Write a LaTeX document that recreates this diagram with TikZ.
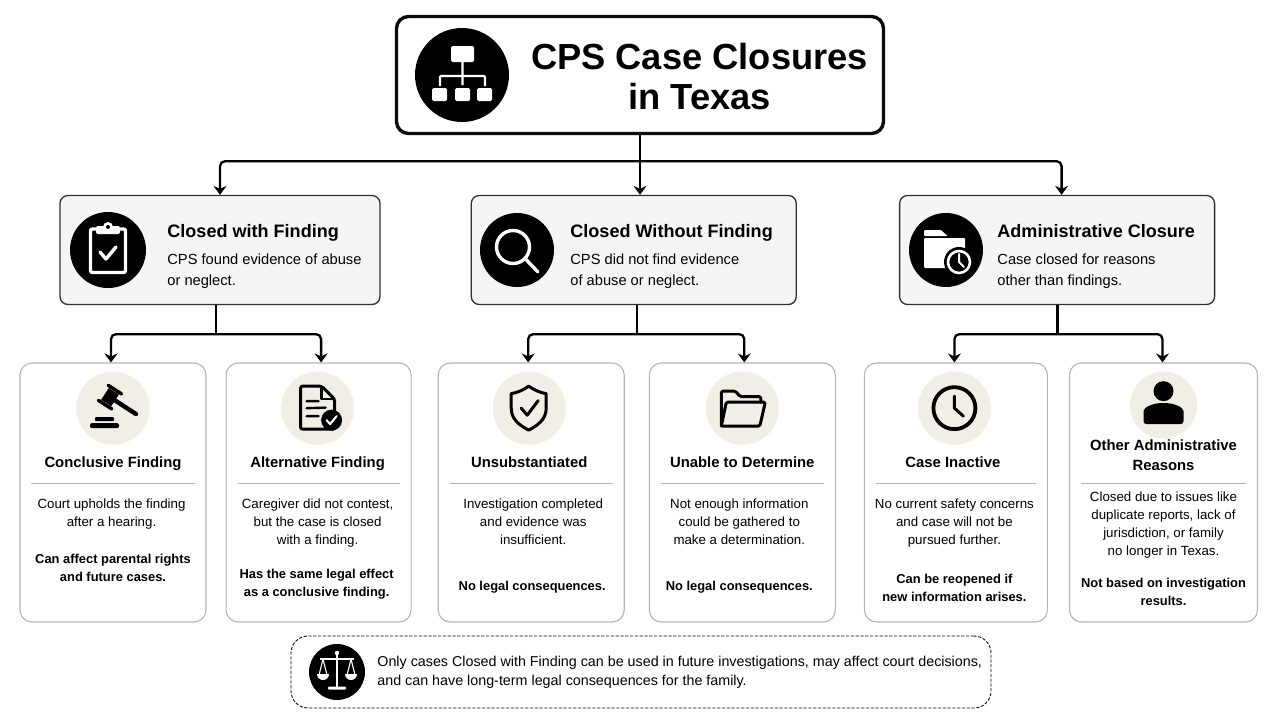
\documentclass[tikz,border=0pt]{standalone}
\usepackage{fontspec}
\setmainfont{Liberation Sans}
\usetikzlibrary{shapes,arrows.meta,positioning}
\definecolor{headfill}{HTML}{F5F5F5}
\definecolor{tanfill}{HTML}{F1EEE6}
\definecolor{cardline}{HTML}{B4B4B4}
\definecolor{inkline}{HTML}{0B0B0B}
\begin{document}
\begin{tikzpicture}[x=1pt, y=1pt, >={Stealth[inset = 3pt, length = 9pt, width = 13pt]}]
    % Define Styles
        \tikzstyle{mainbox} = [
            rectangle,
            draw = inkline,
            fill = white,
            rounded corners = 12pt,
            line width = 3.4pt,
            minimum width = 487pt,
            minimum height = 117pt
        ]
        \tikzstyle{headbox} = [
            rectangle,
            draw = inkline!85,
            fill = headfill,
            rounded corners = 8pt,
            line width = 1.3pt,
            minimum height = 109pt
        ]
        \tikzstyle{cardbox} = [
            rectangle,
            draw = cardline,
            fill = white,
            rounded corners = 12pt,
            line width = 1.1pt,
            minimum height = 259pt
        ]
        \tikzstyle{notebox} = [
            rectangle,
            draw = inkline,
            dash pattern = on 3.2pt off 1.6pt,
            rounded corners = 17pt,
            line width = 0.9pt,
            minimum width = 700pt,
            minimum height = 72pt
        ]
        \tikzstyle{blackdot} = [circle, fill = black, inner sep = 0pt]
        \tikzstyle{tandot} = [circle, fill = tanfill, inner sep = 0pt, minimum size = 73pt]
        \tikzstyle{headtitle} = [inner sep = 0pt, text height = 14pt, text depth = 4pt, font = \fontsize{18.05}{23}\selectfont\bfseries]
        \tikzstyle{headtext} = [inner sep = 0pt, align = left, anchor = north west, font = \fontsize{14.67}{21}\selectfont]
        \tikzstyle{cardtitle} = [inner sep = 0pt, align = center, font = \fontsize{14.85}{20}\selectfont\bfseries]
        \tikzstyle{cardhead} = [cardtitle, text height = 12pt, text depth = 3pt]
        \tikzstyle{cardtext} = [inner sep = 0pt, align = center, font = \fontsize{13.3}{18}\selectfont]
        \tikzstyle{cardnote} = [cardtext, font = \fontsize{12.9}{18}\selectfont\bfseries]
        \tikzstyle{sep} = [draw = cardline, line width = 1.2pt]
        \tikzstyle{link} = [draw = black, line width = 2.3pt, rounded corners = 5pt]
        \tikzstyle{whiteline} = [draw = white, line width = 3.4pt, line cap = round, line join = round]
        \tikzstyle{blackline} = [draw = black, line width = 3pt, line cap = round, line join = round]
    \useasboundingbox (0,0) rectangle (1280,-720);
    % Place nodes
        \node [mainbox] (main) at (640,-75) {};
        \node [blackdot, minimum size = 94pt] (mainicon) at (462,-75) {};
        \node [inner sep = 0pt, align = center, font = \fontsize{36.3}{40}\selectfont\bfseries] (maintitle) at (699.5,-77) {
            CPS Case Closures \\
            in Texas
        };

        \node [headbox, minimum width = 320pt] (heada) at (220,-250) {};
        \node [headbox, minimum width = 325pt, right = 90pt of heada] (headb) {};
        \node [headbox, minimum width = 315pt, right = 102pt of headb] (headc) {};

        \node [blackdot, minimum size = 76pt] (icona) at (108,-250) {};
        \node [headtitle, right = 21pt of icona, yshift = 18pt] (titlea) {Closed with Finding};
        \node [headtext, below = 12.5pt of titlea.south west, anchor = north west] (texta) {
            CPS found evidence of abuse \\
            or neglect.
        };
        \node [blackdot, minimum size = 74pt] (iconb) at (517,-250) {};
        \node [headtitle, right = 16pt of iconb, yshift = 18pt] (titleb) {Closed Without Finding};
        \node [headtext, below = 12.5pt of titleb.south west, anchor = north west] (textb) {
            CPS did not find evidence \\
            of abuse or neglect.
        };
        \node [blackdot, minimum size = 74pt] (iconc) at (946,-250) {};
        \node [headtitle, right = 14pt of iconc, yshift = 18pt] (titlec) {Administrative Closure};
        \node [headtext, below = 12.5pt of titlec.south west, anchor = north west] (textc) {
            Case closed for reasons \\
            other than findings.
        };

        \node [cardbox, minimum width = 186pt] (card1) at (113,-492.5) {};
        \node [cardbox, minimum width = 185pt, right = 19pt of card1] (card2) {};
        \node [cardbox, minimum width = 186pt, right = 26pt of card2] (card3) {};
        \node [cardbox, minimum width = 186pt, right = 24pt of card3] (card4) {};
        \node [cardbox, minimum width = 183pt, right = 28pt of card4] (card5) {};
        \node [cardbox, minimum width = 188pt, right = 21pt of card5] (card6) {};

        \node [tandot, below = 9pt of card1.north] (icon1) {};
        \node [cardhead, below = 10.5pt of icon1] (title1) {Conclusive Finding};
        \node [cardtext, below = 136pt of card1.north, xshift = -1.5pt] (text1) {
            Court upholds the finding \\
            after a hearing.
        };
        \node [cardnote, below = 191pt of card1.north] (note1) {
            Can affect parental rights \\
            and future cases.
        };

        \node [tandot, below = 9pt of card2.north, xshift = -1pt] (icon2) {};
        \node [cardhead, below = 10.5pt of icon2] (title2) {Alternative Finding};
        \node [cardtext, below = 136pt of card2.north, xshift = -1pt] (text2) {
            Caregiver did not contest, \\
            but the case is closed \\
            with a finding.
        };
        \node [cardnote, below = 206pt of card2.north, xshift = -2pt] (note2) {
            Has the same legal effect \\
            as a conclusive finding.
        };

        \node [tandot, below = 9pt of card3.north, xshift = -2pt] (icon3) {};
        \node [cardhead, below = 10.5pt of icon3] (title3) {Unsubstantiated};
        \node [cardtext, below = 136pt of card3.north, xshift = 2pt] (text3) {
            Investigation completed \\
            and evidence was \\
            insufficient.
        };
        \node [cardnote, below = 218pt of card3.north, xshift = 1pt] (note3) {No legal consequences.};

        \node [tandot, below = 9pt of card4.north] (icon4) {};
        \node [cardhead, below = 10.5pt of icon4] (title4) {Unable to Determine};
        \node [cardtext, below = 136pt of card4.north, xshift = -3pt] (text4) {
            Not enough information \\
            could be gathered to \\
            make a determination.
        };
        \node [cardnote, below = 218pt of card4.north, xshift = -3pt] (note4) {No legal consequences.};

        \node [tandot, below = 9pt of card5.north, xshift = -1.5pt] (icon5) {};
        \node [cardhead, below = 10.5pt of icon5, xshift = -1.5pt] (title5) {Case Inactive};
        \node [cardtext, below = 136pt of card5.north, xshift = -1.5pt] (text5) {
            No current safety concerns \\
            and case will not be \\
            pursued further.
        };
        \node [cardnote, below = 211pt of card5.north, xshift = -1.5pt] (note5) {
            Can be reopened if \\
            new information arises.
        };

        \node [tandot, minimum size = 67pt, below = 9pt of card6.north] (icon6) {};
        \node [cardtitle, below = 77pt of card6.north] (title6) {
            Other Administrative \\
            Reasons
        };
        \node [cardtext, below = 129pt of card6.north] (text6) {
            Closed due to issues like \\
            duplicate reports, lack of \\
            jurisdiction, or family \\
            no longer in Texas.
        };
        \node [cardnote, below = 215pt of card6.north] (note6) {
            Not based on investigation \\
            results.
        };

        \node [notebox] (note) at (641,-672) {};
        \node [blackdot, minimum size = 56pt] (noteicon) at (337,-672) {};
        \node [inner sep = 0pt, align = left, anchor = west, font = \fontsize{14.3}{19}\selectfont, right = 12pt of noteicon] (notetext) {
            Only cases Closed with Finding can be used in future investigations, may affect court decisions, \\
            and can have long-term legal consequences for the family.
        };
    % Draw edges
        \coordinate (bus) at ([yshift = -26pt]main.south);
        \coordinate (busa) at ([xshift = -4pt, yshift = -29pt]heada.south);
        \coordinate (busb) at ([xshift = 3.5pt, yshift = -29pt]headb.south);
        \coordinate (busc) at ([xshift = 0.5pt, yshift = -29pt]headc.south);

        \path [link, ->] (main.south) -- (main.south |- headb.north);
        \path [link, <->] (heada.north) |- (bus) -| ([xshift = 4.5pt]headc.north);

        \path [link] (busa |- heada.south) -- (busa);
        \path [link, <->] ([xshift = -2pt]card1.north) |- (busa) -| ([xshift = 2.5pt]card2.north);
        \path [link] (busb |- headb.south) -- (busb);
        \path [link, <->] ([xshift = -3pt]card3.north) |- (busb) -| ([xshift = 2pt]card4.north);
        \path [link] (busc |- headc.south) -- (busc);
        \path [link, <->] ([xshift = -1.5pt]card5.north) |- (busc) -| ([xshift = -1pt]card6.north);

        \foreach \c in {1,...,6} {
            \path [sep] ([shift = {(12,-121)}]card\c.north west) -- ([shift = {(-12,-121)}]card\c.north east);
        }
    % Draw icons
        % chart
        \begin{scope}[shift = {(mainicon.center)}]
            \fill [white, rounded corners = 1.5pt] (-11,13) rectangle (12,29);
            \draw [white, line width = 2.4pt, rounded corners = 1pt] (0.5,13) -- (0.5,-10) (-22,-11) -- (-22,-1) -- (23,-1) -- (23,-11);
            \fill [white, rounded corners = 1.5pt] (-30,-26) rectangle (-15,-13);
            \fill [white, rounded corners = 1.5pt] (-7,-26) rectangle (8,-13);
            \fill [white, rounded corners = 1.5pt] (15,-26) rectangle (30,-13);
        \end{scope}
        % clipboard
        \begin{scope}[shift = {(icona.center)}]
            \draw [whiteline, rounded corners = 2pt] (-11,21) -- (-17.5,21) -- (-17.5,-22.5) -- (17.5,-22.5) -- (17.5,21) -- (11,21);
            \fill [white, rounded corners = 2pt] (-12,16) rectangle (12,24);
            \fill [white] (0,23) circle (5);
            \fill [black] (0,23) circle (2);
            \draw [whiteline, line width = 3.4pt] (-8,-2) -- (-2,-9) -- (8,3);
        \end{scope}
        % magnifier
        \begin{scope}[shift = {(iconb.center)}]
            \draw [whiteline] (-4,3) circle (16.5);
            \draw [whiteline] (8,-8.5) -- (21,-22);
        \end{scope}
        % folder and clock
        \begin{scope}[shift = {(iconc.center)}]
            \fill [white, rounded corners = 1pt] (-22,20) -- (-5,20) -- (0,15) -- (1,15) -- (1,14) -- (-22,14) -- cycle;
            \fill [white, rounded corners = 1pt] (-22,12) -- (19,12) -- (19,-18) -- (-22,-18) -- cycle;
            \fill [black] (13,-12) circle (15);
            \draw [white, line width = 2.6pt] (13,-12) circle (11);
            \draw [white, line width = 2pt, line cap = round] (13,-4) -- (13,-12) -- (18,-17);
        \end{scope}
        % gavel
        \begin{scope}[shift = {(icon1.center)}]
            \fill [black, rounded corners = 1pt] (-18,-13) rectangle (1,-9);
            \fill [black, rounded corners = 2pt] (-23,-20) rectangle (6,-15);
            \begin{scope}[shift = {(-3,11)}, rotate = -33]
                \fill [black] (-6,-7) rectangle (6,7);
                \draw [blackline, line width = 3.4pt] (-8,9) -- (8,9) (-8,-9) -- (8,-9);
                \draw [blackline, line width = 4.4pt] (6,0) -- (31,0);
            \end{scope}
        \end{scope}
        % document
        \begin{scope}[shift = {(icon2.center)}]
            \draw [blackline, rounded corners = 2pt] (4,22) -- (-17,22) -- (-17,-21) -- (17,-21) -- (17,9) -- cycle;
            \draw [blackline, line width = 2.4pt] (4,22) -- (4,9) -- (17,9);
            \draw [blackline, line width = 2.4pt] (-11,7) -- (1,7) (-11,0) -- (8,0.5) (-11,-8) -- (1,-8);
            \fill [black] (14,-12) circle (10.5);
            \draw [white, line width = 2pt, line cap = round, line join = round] (9,-12) -- (12.5,-16) -- (19,-8);
        \end{scope}
        % shield
        \begin{scope}[shift = {(icon3.center)}]
            \draw [blackline] (-0.5,22) .. controls (-6,18) and (-12,15.5) .. (-18,14.5) -- (-18,0) .. controls (-18,-11) and (-10,-17) .. (-0.5,-22) .. controls (9,-17) and (17,-11) .. (17,0) -- (17,14.5) .. controls (11,15.5) and (5,18) .. (-0.5,22) -- cycle;
            \draw [blackline] (-8,0) -- (-2,-7) -- (9,7.5);
        \end{scope}
        % open folder
        \begin{scope}[shift = {(icon4.center)}]
            \draw [blackline, rounded corners = 1.5pt] (-21,-18) -- (-21,17) -- (-7,17) -- (-2,11.5) -- (18.5,11.5) -- (18.5,6);
            \draw [blackline, rounded corners = 1.5pt] (-16,6) -- (23,6) -- (17.5,-18) -- (-21,-18) -- cycle;
        \end{scope}
        % clock
        \begin{scope}[shift = {(icon5.center)}]
            \draw [blackline, line width = 3.8pt] (0,0) circle (21);
            \draw [blackline] (0,12) -- (0,0) -- (9,-8);
        \end{scope}
        % person
        \begin{scope}[shift = {(icon6.center)}]
            \fill [black] (0,14) circle (10);
            \fill [black, rounded corners = 3pt] (-20,-19) -- (-20,-9) .. controls (-20,-2) and (-10,2) .. (0,2) .. controls (10,2) and (20,-2) .. (20,-9) -- (20,-19) -- cycle;
        \end{scope}
        % scales
        \begin{scope}[shift = {(noteicon.center)}]
            \tikzstyle{thinwhite} = [draw = white, line width = 1.1pt, line join = round]
            \fill [white] (0,19) circle (2.2);
            \draw [white, line width = 2.2pt] (0,18) -- (0,-15);
            \draw [white, line width = 1.8pt] (-17,13) -- (17,13);
            \fill [white, rounded corners = 1pt] (-9,-17.5) rectangle (9,-14.5);
            \draw [thinwhite] (-18,-3) -- (-14,13) -- (-10,-3);
            \draw [thinwhite] (18,-3) -- (14,13) -- (10,-3);
            \fill [white] (-20,-2) arc (180:360:6 and 6) -- cycle;
            \fill [white] (8,-2) arc (180:360:6 and 6) -- cycle;
        \end{scope}
    \end{tikzpicture}
\end{document}
